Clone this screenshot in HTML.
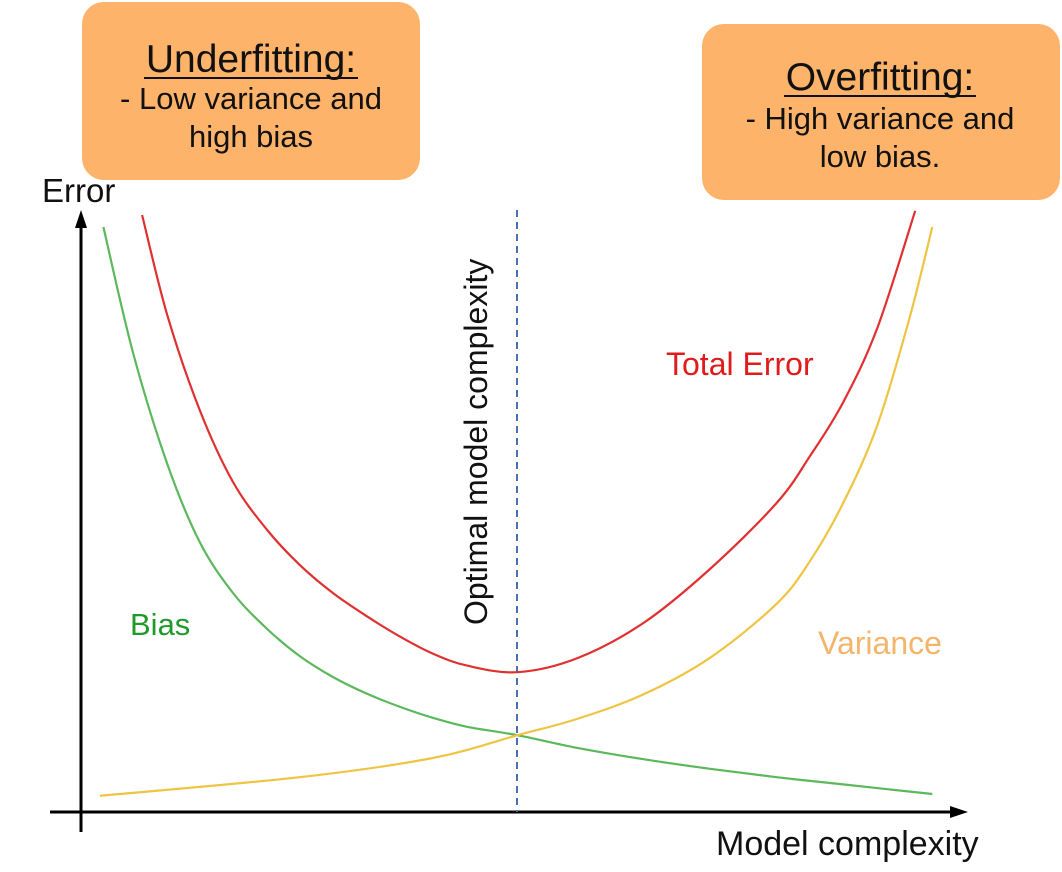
<!DOCTYPE html>
<html><head><meta charset="utf-8"><style>
html,body{margin:0;padding:0;background:#fff;width:1062px;height:872px;overflow:hidden}
svg{display:block;font-family:"Liberation Sans",Arial,sans-serif}
</style></head><body>
<svg id="chart" width="1062" height="872" viewBox="0 0 1062 872">
<g>
<rect x="82" y="2" width="338" height="178" rx="22" fill="#FDB36A"/>
<text x="251" y="72" text-anchor="middle" font-size="39" fill="#111">Underfitting:</text>
<line x1="144" y1="78" x2="358" y2="78" stroke="#111" stroke-width="2"/>
<text x="251" y="109" text-anchor="middle" font-size="31" fill="#111">- Low variance and</text>
<text x="251" y="147" text-anchor="middle" font-size="31" fill="#111">high bias</text>
</g>
<g>
<rect x="702" y="24" width="358" height="176" rx="22" fill="#FDB36A"/>
<text x="880" y="90" text-anchor="middle" font-size="39" fill="#111">Overfitting:</text>
<line x1="784" y1="96" x2="976" y2="96" stroke="#111" stroke-width="2"/>
<text x="880" y="129" text-anchor="middle" font-size="31" fill="#111">- High variance and</text>
<text x="880" y="167" text-anchor="middle" font-size="31" fill="#111">low bias.</text>
</g>
<g id="axes">
<line x1="81" y1="832" x2="81" y2="226" stroke="#000" stroke-width="3"/>
<polygon points="81,210 75,228 87,228" fill="#000"/>
<line x1="50" y1="812" x2="952" y2="812" stroke="#000" stroke-width="3"/>
<polygon points="968,812 950,806 950,818" fill="#000"/>
<text x="42" y="202" font-size="33" fill="#111">Error</text>
<text x="716" y="855" font-size="34" fill="#111">Model complexity</text>
</g>
<line x1="517" y1="210" x2="517" y2="812" stroke="#4a6fb5" stroke-width="2" stroke-dasharray="7,5"/>
<text transform="translate(487,625) rotate(-90)" font-size="32" fill="#111">Optimal model complexity</text>
<g id="series"></g>
<text x="666" y="375" font-size="32" fill="#e01b1b">Total Error</text>
<text x="130" y="635" font-size="31" fill="#1f9a2a">Bias</text>
<text x="818" y="654" font-size="32" fill="#f4b46a">Variance</text>
</svg>
<script>
const biasX=[2.6,5.9,9.7,13.3,17,20.8,24.4,28.1,31.9,35.6,39.2,43,48.6,55.2,62.6,70,77.4,84.8,94.7];
const biasY=[97.5,76.5,58,45,36.5,30.5,26,22.5,19.7,17.5,15.7,14.2,12.8,10.7,8.8,7.2,5.8,4.6,3];
const varianceX=[2.2,24.4,39.2,48.6,55.2,62.6,70,77.4,81.1,84.8,88.6,92.2,94.7];
const varianceY=[2.7,5.8,9,12.8,15.5,19.6,25.7,34.7,41.8,51.5,64.5,82.5,97.5];
const totalX=[6.9,9.7,13.3,17,20.8,24.4,28.1,31.9,35.6,39.2,43,48.6,55.2,62.6,70,77.4,81.1,84.8,88.6,92.8];
const totalY=[99.5,82.8,67,55,47,41.2,36.5,32.6,29.2,26.4,24.4,23.3,25.6,31.5,40.5,51.5,59.3,68.3,80.7,100.2];
function xs(c){return 80+c*9;}
function ys(e){return 812-e*6;}
function pathFor(X,Y){
  const p=X.map((x,i)=>[xs(x),ys(Y[i])]);
  let d='M'+p[0][0]+','+p[0][1];
  for(let i=0;i<p.length-1;i++){
    const p0=p[Math.max(0,i-1)],p1=p[i],p2=p[i+1],p3=p[Math.min(p.length-1,i+2)];
    const c1x=p1[0]+(p2[0]-p0[0])/6,c1y=p1[1]+(p2[1]-p0[1])/6;
    const c2x=p2[0]-(p3[0]-p1[0])/6,c2y=p2[1]-(p3[1]-p1[1])/6;
    d+=' C'+c1x+','+c1y+' '+c2x+','+c2y+' '+p2[0]+','+p2[1];
  }
  return d;
}
const g=document.getElementById('series');
function add(X,Y,color,name){
  const el=document.createElementNS('http://www.w3.org/2000/svg','path');
  el.setAttribute('d',pathFor(X,Y));
  el.setAttribute('fill','none');
  el.setAttribute('stroke',color);
  el.setAttribute('stroke-width','2.2');
  
  
  g.appendChild(el);
}
add(biasX,biasY,'#5cb85c','bias-curve');
add(varianceX,varianceY,'#efc443','variance-curve');
add(totalX,totalY,'#e03030','total-error-curve');
</script>
</body></html>
